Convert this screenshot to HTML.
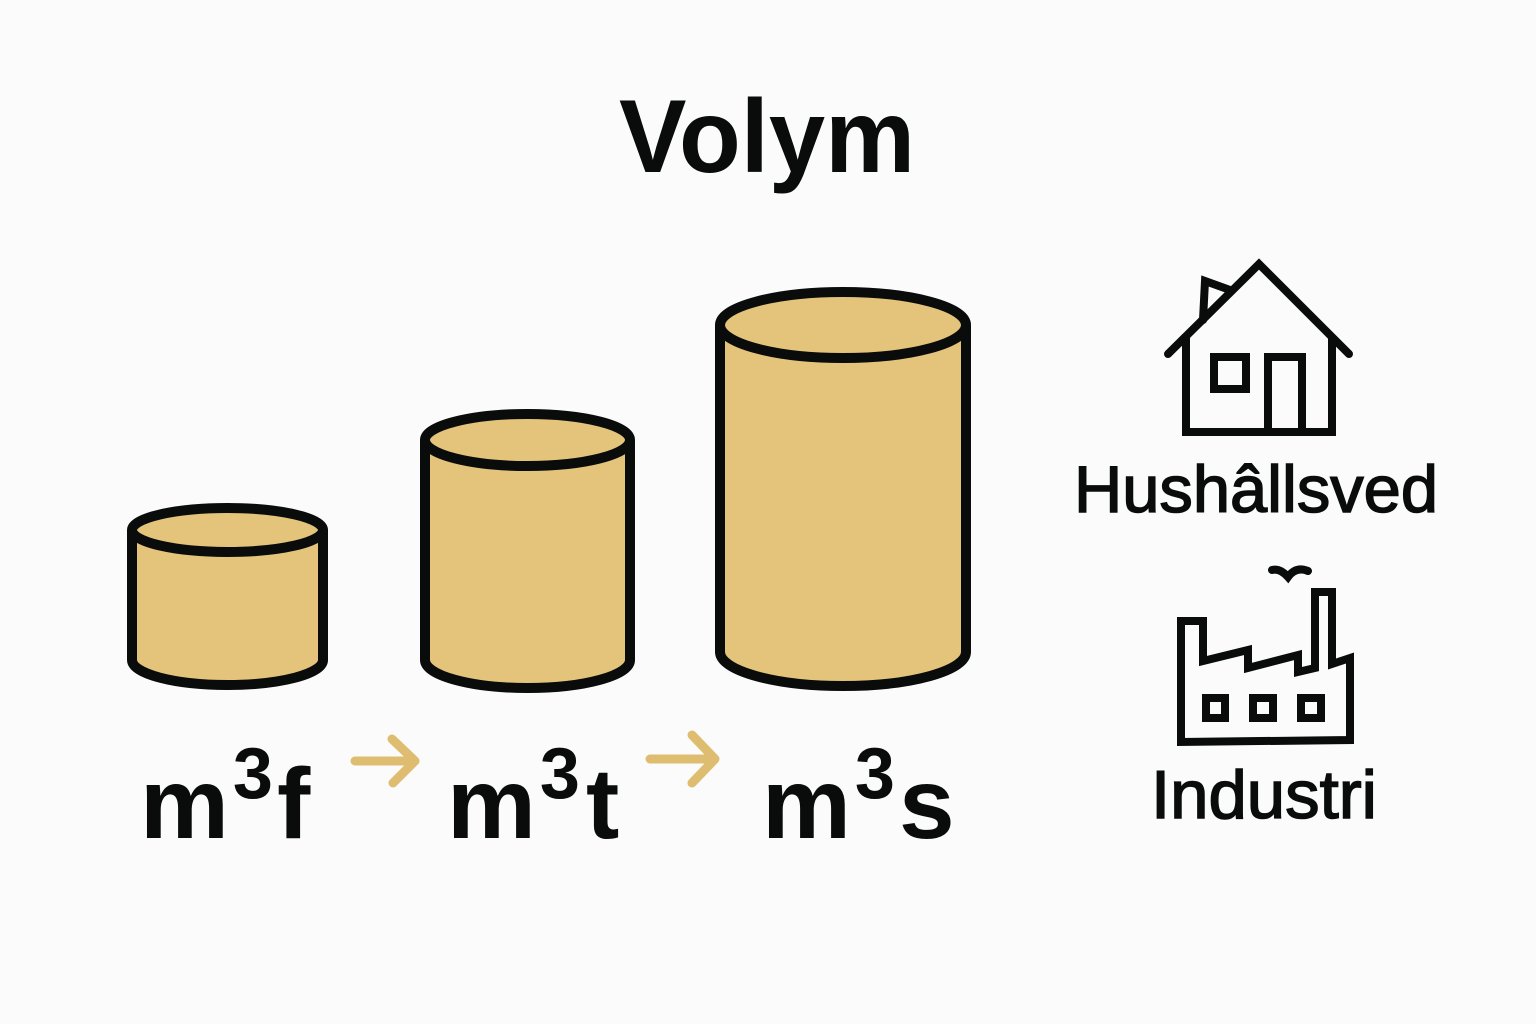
<!DOCTYPE html>
<html><head><meta charset="utf-8"><style>
html,body{margin:0;padding:0;background:#fbfbfb;}
svg{display:block}
text{font-family:"Liberation Sans",sans-serif;fill:#0a0c0c}
</style></head><body>
<svg width="1536" height="1024" viewBox="0 0 1536 1024" xmlns="http://www.w3.org/2000/svg">
<rect width="1536" height="1024" fill="#fbfbfb"/>
<text x="767" y="172" font-size="104" font-weight="bold" text-anchor="middle" textLength="296" lengthAdjust="spacingAndGlyphs">Volym</text>
<g fill="#e3c47a" stroke="#0a0c0c" stroke-width="10" stroke-linejoin="round">
 <path d="M132 530 L132 660 A95.5 25 0 0 0 323 660 L323 530 A95.5 22 0 0 0 132 530 Z"/>
 <path d="M132 530 A95.5 22 0 0 0 323 530" fill="none"/>
 <path d="M425 440 L425 660 A102.5 28 0 0 0 630 660 L630 440 A102.5 26 0 0 0 425 440 Z"/>
 <path d="M425 440 A102.5 26 0 0 0 630 440" fill="none"/>
 <path d="M720 325 L720 652 A123 34 0 0 0 966 652 L966 325 A123 33 0 0 0 720 325 Z"/>
 <path d="M720 325 A123 33 0 0 0 966 325" fill="none"/>
</g>
<g font-size="100" font-weight="bold">
 <text x="140" y="838">m<tspan font-size="72" dx="4" dy="-40">3</tspan><tspan dx="4" dy="40">f</tspan></text>
 <text x="447" y="838">m<tspan font-size="72" dx="4" dy="-40">3</tspan><tspan dx="6" dy="40">t</tspan></text>
 <text x="762" y="838">m<tspan font-size="72" dx="4" dy="-40">3</tspan><tspan dx="4" dy="40">s</tspan></text>
</g>
<g stroke="#dfbd70" stroke-width="9" stroke-linecap="round" stroke-linejoin="round" fill="none">
 <path d="M355 761 L415 761 M392 739 L415 761 L393 783"/>
 <path d="M650 759 L715 759 M692 735 L715 759 L692 783"/>
</g>
<g stroke="#0a0c0c" stroke-width="8" fill="none" stroke-linejoin="miter" stroke-linecap="round">
 <path d="M1168 354 L1259 264 L1349 354"/>
 <path d="M1186 338 L1186 432 L1332 432 L1332 338"/>
 <rect x="1214" y="357" width="32" height="32"/>
 <path d="M1268 432 L1268 357 L1302 357 L1302 432"/>
 <path d="M1203 320 L1205 281 L1230 290"/>
 <path d="M1181 742 L1181 621 L1203 621 L1203 661 L1248 650 L1248 668 L1298 655 L1298 672 L1315 668 L1315 592 L1332 592 L1332 664 L1350 658 L1350 740 Z"/>
 <rect x="1206" y="698" width="19" height="20"/>
 <rect x="1253" y="698" width="20" height="20"/>
 <rect x="1301" y="698" width="20" height="20"/>
 <path d="M1272 570 Q1280 568 1288 577 Q1296 566 1308 571"/>
</g>
<text x="1256" y="512" font-size="66" text-anchor="middle" stroke="#0a0c0c" stroke-width="1.5" textLength="364" lengthAdjust="spacingAndGlyphs">Hushâllsved</text>
<text x="1264" y="818" font-size="68" text-anchor="middle" stroke="#0a0c0c" stroke-width="1.5" textLength="226" lengthAdjust="spacingAndGlyphs">Industri</text>
</svg>
</body></html>
